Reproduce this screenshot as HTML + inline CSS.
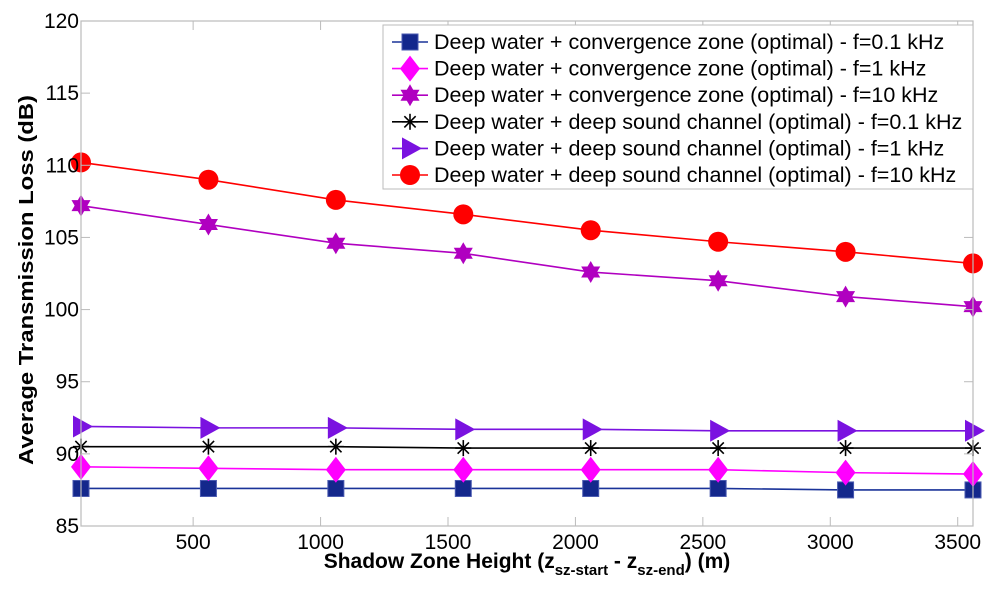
<!DOCTYPE html>
<html><head><meta charset="utf-8"><style>
html,body{margin:0;padding:0;background:#fff;}
svg{display:block;font-family:"Liberation Sans",Arial,sans-serif;}
</style></head><body>
<svg id="chart" width="1000" height="597" viewBox="0 0 1000 597">
<rect x="0" y="0" width="1000" height="597" fill="#fff"/>
<g id="series"></g>
<g id="axes"></g>
<text transform="translate(33,280) rotate(-90)" text-anchor="middle" font-size="20" font-weight="bold" textLength="370" lengthAdjust="spacingAndGlyphs">Average Transmission Loss (dB)</text>
<text x="527" y="568" text-anchor="middle" font-size="21" font-weight="bold">Shadow Zone Height (z<tspan font-size="15" dy="7">sz-start</tspan><tspan dy="-7"> - z</tspan><tspan font-size="15" dy="7">sz-end</tspan><tspan dy="-7">) (m)</tspan></text>
<g id="legend"></g>
</svg>
<script>
const xValues = [60, 560, 1060, 1560, 2060, 2560, 3060, 3560];
const cz01 = [87.6, 87.6, 87.6, 87.6, 87.6, 87.6, 87.5, 87.5];
const cz1 = [89.1, 89.0, 88.9, 88.9, 88.9, 88.9, 88.7, 88.6];
const cz10 = [107.2, 105.9, 104.6, 103.9, 102.6, 102.0, 100.9, 100.2];
const dsc01 = [90.5, 90.5, 90.5, 90.4, 90.4, 90.4, 90.4, 90.4];
const dsc1 = [91.9, 91.8, 91.8, 91.7, 91.7, 91.6, 91.6, 91.6];
const dsc10 = [110.2, 109.0, 107.6, 106.6, 105.5, 104.7, 104.0, 103.2];
const xTicks = [500, 1000, 1500, 2000, 2500, 3000, 3500];
const yTicks = [85, 90, 95, 100, 105, 110, 115, 120];
const seriesLabels = [
 "Deep water + convergence zone (optimal) - f=0.1 kHz",
 "Deep water + convergence zone (optimal) - f=1 kHz",
 "Deep water + convergence zone (optimal) - f=10 kHz",
 "Deep water + deep sound channel (optimal) - f=0.1 kHz",
 "Deep water + deep sound channel (optimal) - f=1 kHz",
 "Deep water + deep sound channel (optimal) - f=10 kHz"];

const L=81,R=973,T=21,B=526, XMIN=60,XMAX=3560,YMIN=85,YMAX=120;
const sx=v=>L+(v-XMIN)/(XMAX-XMIN)*(R-L);
const sy=v=>B-(v-YMIN)/(YMAX-YMIN)*(B-T);
const NS="http://www.w3.org/2000/svg";
function mk(tag,attrs,parent){const e=document.createElementNS(NS,tag);for(const k in attrs)e.setAttribute(k,attrs[k]);parent.appendChild(e);return e;}
const axes=document.getElementById('axes');
const ax=mk('rect',{x:L,y:T,width:R-L,height:B-T,fill:'none',stroke:'#bbb','stroke-width':1.2},axes);


xTicks.forEach(t=>{const x=sx(t);
 mk('line',{x1:x,y1:B,x2:x,y2:B-9,stroke:'#bbb'},axes);
 mk('line',{x1:x,y1:T,x2:x,y2:T+9,stroke:'#bbb'},axes);
 const tx=mk('text',{x:x,y:B+23,'text-anchor':'middle','font-size':21},axes);tx.textContent=t;
 
 
});
yTicks.forEach(t=>{const y=sy(t);
 mk('line',{x1:L,y1:y,x2:L+9,y2:y,stroke:'#bbb'},axes);
 mk('line',{x1:R,y1:y,x2:R-9,y2:y,stroke:'#bbb'},axes);
 const tx=mk('text',{x:L-2,y:y+7,'text-anchor':'end','font-size':21},axes);tx.textContent=t;
 
 
});
function marker(type,x,y,color,g){
 if(type==='square')mk('rect',{x:x-8,y:y-8,width:16,height:16,fill:color,stroke:'#4a5ab0','stroke-width':1},g);
 else if(type==='diamond')mk('polygon',{points:`${x},${y-13} ${x+10},${y} ${x},${y+13} ${x-10},${y}`,fill:color},g);
 else if(type==='hexagram'){const r=11,p1=[],p2=[];for(let i=0;i<3;i++){const a1=-Math.PI/2+i*2*Math.PI/3,a2=Math.PI/2+i*2*Math.PI/3;p1.push((x+r*Math.cos(a1))+','+(y+r*Math.sin(a1)));p2.push((x+r*Math.cos(a2))+','+(y+r*Math.sin(a2)));}
  mk('polygon',{points:p1.join(' '),fill:color},g);mk('polygon',{points:p2.join(' '),fill:color},g);}
 else if(type==='asterisk'){const r=8;for(let i=0;i<4;i++){const a=i*Math.PI/4;mk('line',{x1:x-r*Math.cos(a),y1:y-r*Math.sin(a),x2:x+r*Math.cos(a),y2:y+r*Math.sin(a),stroke:color,'stroke-width':1.6},g);}}
 else if(type==='triangle')mk('polygon',{points:`${x-8},${y-11} ${x+12},${y} ${x-8},${y+11}`,fill:color},g);
 else if(type==='circle')mk('circle',{cx:x,cy:y,r:10,fill:color},g);
}
const series=[
 {d:cz01,c:'#14288c',lc:'#1a3399',m:'square',n:'series-cz-0.1khz'},
 {d:cz1,c:'#ff00ff',lc:'#ff00ff',m:'diamond',n:'series-cz-1khz'},
 {d:cz10,c:'#b000c0',lc:'#b000c0',m:'hexagram',n:'series-cz-10khz'},
 {d:dsc01,c:'#000',lc:'#000',m:'asterisk',n:'series-dsc-0.1khz'},
 {d:dsc1,c:'#7a12e0',lc:'#7a12e0',m:'triangle',n:'series-dsc-1khz'},
 {d:dsc10,c:'#ff0000',lc:'#ff0000',m:'circle',n:'series-dsc-10khz'}];
const sg=document.getElementById('series');
series.forEach(s=>{
 const g=mk('g',{},sg);
 
 
 mk('polyline',{points:s.d.map((v,i)=>sx(xValues[i])+','+sy(v)).join(' '),fill:'none',stroke:s.lc,'stroke-width':1.6},g);
 s.d.forEach((v,i)=>marker(s.m,sx(xValues[i]),sy(v),s.c,g));
});
const lg=document.getElementById('legend');
const box=mk('rect',{x:383,y:25,width:590,height:164,fill:'#fff',stroke:'#bbb'},lg);


series.forEach((s,i)=>{
 const y=42+i*26.6;
 const g=mk('g',{},lg);
 
 
 mk('line',{x1:392,y1:y,x2:428,y2:y,stroke:s.lc,'stroke-width':1.6},g);
 marker(s.m,410,y,s.c,g);
 const t=mk('text',{x:434,y:y+7,'font-size':21.5},g);t.textContent=seriesLabels[i];
});
</script>
</body></html>
